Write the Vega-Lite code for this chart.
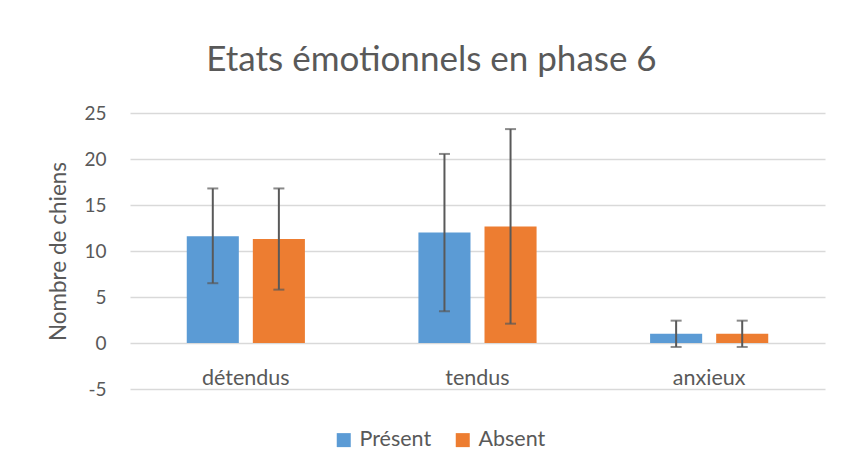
{
  "$schema": "https://vega.github.io/schema/vega-lite/v6.json",
  "width": 695,
  "height": 276,
  "autosize": {"type": "none"},
  "padding": {"left": 130, "top": 113, "right": 18, "bottom": 85},
  "background": "white",
  "title": {"text": "Etats émotionnels en phase 6", "fontSize": 35, "font": "Lato", "fontWeight": "normal", "color": "#595959", "anchor": "middle", "dx": -46, "offset": 26},
  "data": {"values": [
    {"etat": "détendus", "groupe": "Présent", "valeur": 11.6, "bas": 6.5, "haut": 16.8},
    {"etat": "détendus", "groupe": "Absent", "valeur": 11.3, "bas": 5.8, "haut": 16.8},
    {"etat": "tendus", "groupe": "Présent", "valeur": 12.0, "bas": 3.45, "haut": 20.55},
    {"etat": "tendus", "groupe": "Absent", "valeur": 12.65, "bas": 2.1, "haut": 23.25},
    {"etat": "anxieux", "groupe": "Présent", "valeur": 1.0, "bas": -0.43, "haut": 2.43},
    {"etat": "anxieux", "groupe": "Absent", "valeur": 1.0, "bas": -0.43, "haut": 2.43}
  ]},
  "encoding": {
    "x": {"field": "etat", "type": "nominal", "sort": ["détendus", "tendus", "anxieux"],
      "scale": {"paddingInner": 0.49, "paddingOuter": 0.245},
      "axis": {"title": null, "labelAngle": 0, "domain": false, "ticks": false, "tickSize": 0, "offset": -46, "labelPadding": 24, "labelFontSize": 21.5, "labelFont": "Lato", "labelColor": "#595959"}},
    "xOffset": {"field": "groupe", "type": "nominal", "sort": ["Présent", "Absent"], "scale": {"paddingInner": 0.212, "paddingOuter": 0}}
  },
  "layer": [
    {
      "mark": {"type": "bar"},
      "encoding": {
        "y": {"field": "valeur", "type": "quantitative", "scale": {"domain": [-5, 25], "padding": 0, "nice": false, "zero": false},
          "axis": {"title": "Nombre de chiens", "values": [-5, 0, 5, 10, 15, 20, 25], "labelExpr": "replace(datum.label, '−', '-')", "domain": false, "ticks": false, "tickSize": 0, "labelPadding": 24, "labelFontSize": 19, "labelFont": "Lato", "labelColor": "#595959", "titleFontSize": 22.5, "titleFont": "Lato", "titleFontWeight": "normal", "titleColor": "#595959", "titlePadding": 13, "gridColor": "#D9D9D9", "gridWidth": 1.3}},
        "color": {"field": "groupe", "type": "nominal", "sort": ["Présent", "Absent"],
          "scale": {"domain": ["Présent", "Absent"], "range": ["#5B9BD5", "#ED7D31"]},
          "legend": {"title": null, "orient": "none", "direction": "horizontal", "legendX": 203, "legendY": 316, "symbolType": "square", "symbolSize": 196, "symbolStrokeWidth": 0, "labelFontSize": 21.5, "labelFont": "Lato", "labelColor": "#595959", "columnPadding": 20, "labelOffset": 5}}
      }
    },
    {
      "mark": {"type": "rule", "color": "#595959", "strokeWidth": 2},
      "encoding": {"y": {"field": "bas", "type": "quantitative"}, "y2": {"field": "haut"}}
    },
    {
      "mark": {"type": "tick", "color": "#595959", "thickness": 2, "size": 11, "orient": "horizontal"},
      "encoding": {"y": {"field": "bas", "type": "quantitative"}}
    },
    {
      "mark": {"type": "tick", "color": "#595959", "thickness": 2, "size": 11, "orient": "horizontal"},
      "encoding": {"y": {"field": "haut", "type": "quantitative"}}
    }
  ],
  "config": {"view": {"stroke": null}}
}
